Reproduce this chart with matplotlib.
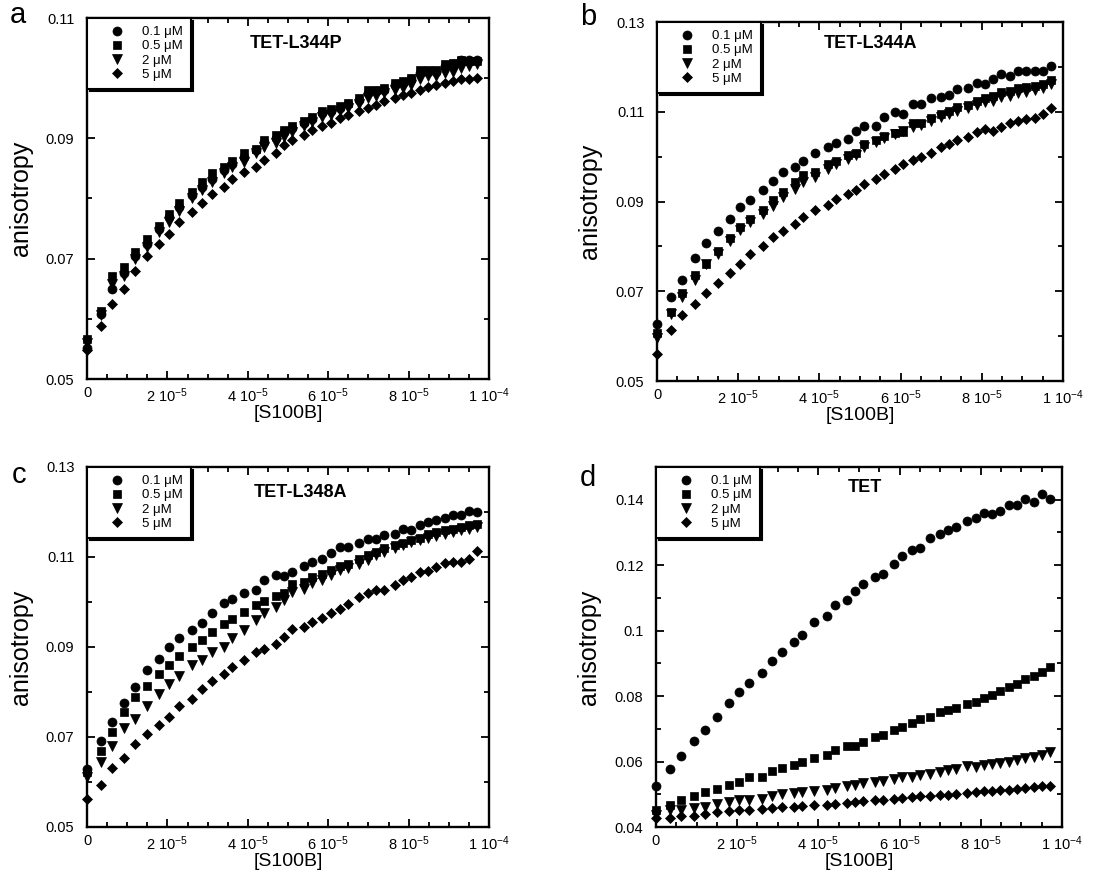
import matplotlib
matplotlib.use("Agg")
import matplotlib.pyplot as plt
from matplotlib.ticker import MultipleLocator

plt.rcParams['font.family'] = ['Liberation Sans', 'DejaVu Sans']
plt.rcParams['mathtext.fontset'] = 'custom'
plt.rcParams['mathtext.rm'] = 'Liberation Sans'
plt.rcParams['mathtext.default'] = 'regular'

# [S100B] in units of 1e-5 M
s100b_e5 = [0, 0.35, 0.62, 0.93, 1.2, 1.5, 1.8, 2.05, 2.3, 2.6, 2.86, 3.1, 3.4, 3.6, 3.9,
            4.2, 4.4, 4.7, 4.9, 5.1, 5.4, 5.6, 5.85, 6.06, 6.3, 6.5, 6.76, 7.0, 7.2, 7.4,
            7.66, 7.87, 8.07, 8.28, 8.48, 8.69, 8.9, 9.1, 9.3, 9.5, 9.7]

series_labels = ['0.1 \u03bcM', '0.5 \u03bcM', '2 \u03bcM', '5 \u03bcM']

# Panel a: TET-L344P
a_01 = [.0552, .0608, .0650, .0677, .0705, .0725, .0750, .0769, .0786, .0805, .0819, .0833, .0847, .0858,
        .0869, .0880, .0894, .0900, .0911, .0917, .0925, .0932, .0942, .0946, .0950, .0957, .0964, .0975,
        .0978, .0981, .0988, .0992, .0998, .1009, .1011, .1011, .1020, .1023, .1031, .1031, .1031]
a_05 = [.0566, .0613, .0672, .0686, .0711, .0733, .0755, .0775, .0793, .0811, .0828, .0842, .0853, .0862,
        .0875, .0883, .0897, .0906, .0914, .0920, .0929, .0936, .0945, .0948, .0953, .0958, .0967, .0981,
        .0981, .0984, .0992, .0995, .1000, .1013, .1014, .1014, .1023, .1025, .1031, .1029, .1028]
a_2 = [.0560, .0606, .0658, .0672, .0700, .0719, .0744, .0761, .0780, .0800, .0814, .0828, .0842, .0853,
       .0861, .0875, .0886, .0892, .0903, .0911, .0920, .0927, .0935, .0939, .0945, .0950, .0957, .0967,
       .0971, .0975, .0981, .0984, .0989, .0998, .1003, .1003, .1009, .1011, .1017, .1020, .1023]
a_5 = [.0549, .0588, .0624, .0650, .0680, .0705, .0725, .0741, .0761, .0777, .0793, .0808, .0819, .0833,
       .0844, .0853, .0864, .0875, .0889, .0897, .0906, .0914, .0920, .0925, .0933, .0939, .0945, .0950,
       .0956, .0962, .0967, .0972, .0975, .0981, .0986, .0989, .0992, .0995, .0998, .0999, .1000]

# Panel b: TET-L344A
b_01 = [.0628, .0687, .0726, .0773, .0807, .0834, .0861, .0887, .0904, .0926, .0945, .0965, .0976, .0991,
        .1007, .1021, .1030, .1039, .1056, .1069, .1069, .1089, .1099, .1096, .1117, .1117, .1130, .1132,
        .1138, .1150, .1153, .1163, .1161, .1173, .1184, .1180, .1190, .1191, .1190, .1190, .1202]
b_05 = [.0606, .0654, .0695, .0736, .0761, .0790, .0819, .0843, .0861, .0880, .0904, .0921, .0943, .0960,
        .0965, .0984, .0991, .1004, .1009, .1028, .1036, .1047, .1052, .1054, .1074, .1076, .1087, .1095,
        .1102, .1111, .1116, .1124, .1130, .1136, .1145, .1147, .1153, .1156, .1158, .1161, .1170]
b_2 = [.0595, .0650, .0687, .0724, .0761, .0784, .0813, .0836, .0854, .0873, .0891, .0910, .0928, .0943,
       .0954, .0973, .0984, .0995, .1004, .1021, .1032, .1041, .1050, .1056, .1067, .1071, .1080, .1089,
       .1095, .1102, .1108, .1116, .1121, .1124, .1132, .1136, .1141, .1145, .1148, .1154, .1161]
b_5 = [.0561, .0613, .0647, .0671, .0696, .0719, .0741, .0760, .0782, .0800, .0821, .0834, .0849, .0865,
       .0880, .0893, .0906, .0917, .0926, .0939, .0950, .0961, .0973, .0984, .0993, .1000, .1009, .1021,
       .1028, .1036, .1043, .1054, .1061, .1056, .1067, .1074, .1080, .1084, .1086, .1095, .1108]

# Panel c: TET-L348A
c_01 = [.0630, .0691, .0733, .0776, .0811, .0848, .0874, .0899, .0919, .0937, .0953, .0976, .0998, .1007,
        .1019, .1027, .1048, .1059, .1057, .1067, .1079, .1089, .1096, .1109, .1122, .1122, .1130, .1141,
        .1141, .1148, .1152, .1163, .1161, .1170, .1178, .1183, .1187, .1193, .1193, .1202, .1200]
c_05 = [.0622, .0669, .0711, .0756, .0789, .0813, .0839, .0859, .0879, .0899, .0916, .0933, .0950, .0963,
        .0978, .0993, .1002, .1013, .1019, .1041, .1044, .1056, .1063, .1072, .1081, .1085, .1096, .1104,
        .1111, .1119, .1126, .1131, .1137, .1143, .1150, .1156, .1161, .1163, .1167, .1170, .1174]
c_2 = [.0611, .0644, .0679, .0719, .0739, .0770, .0795, .0817, .0835, .0859, .0872, .0889, .0901, .0919,
       .0937, .0959, .0976, .0989, .1005, .1022, .1030, .1042, .1050, .1061, .1070, .1076, .1085, .1094,
       .1104, .1111, .1119, .1126, .1133, .1137, .1143, .1146, .1152, .1156, .1161, .1163, .1167]
c_5 = [.0563, .0593, .0632, .0654, .0684, .0707, .0726, .0744, .0770, .0785, .0807, .0824, .0841, .0856,
       .0872, .0889, .0896, .0907, .0922, .0939, .0944, .0956, .0965, .0976, .0985, .0996, .1010, .1019,
       .1026, .1027, .1037, .1048, .1056, .1067, .1069, .1078, .1087, .1089, .1089, .1096, .1113]

# Panel d: TET
d_01 = [.0526, .0577, .0617, .0664, .0697, .0737, .0778, .0811, .0839, .0872, .0908, .0936, .0966, .0986,
        .1027, .1044, .1078, .1093, .1122, .1144, .1164, .1174, .1205, .1227, .1246, .1254, .1284, .1294,
        .1307, .1317, .1335, .1345, .1359, .1357, .1365, .1383, .1383, .1403, .1393, .1416, .1403]
d_05 = [.0453, .0468, .0483, .0494, .0506, .0516, .0529, .0539, .0552, .0554, .0570, .0580, .0590, .0600,
        .0610, .0621, .0634, .0646, .0648, .0661, .0674, .0682, .0695, .0707, .0719, .0729, .0735, .0750,
        .0758, .0763, .0776, .0783, .0793, .0803, .0817, .0827, .0837, .0851, .0861, .0875, .0888]
d_2 = [.0438, .0453, .0453, .0458, .0461, .0471, .0475, .0481, .0483, .0485, .0494, .0502, .0504, .0506,
       .0509, .0514, .0519, .0524, .0529, .0534, .0536, .0542, .0546, .0554, .0554, .0560, .0563, .0567,
       .0573, .0577, .0585, .0583, .0590, .0593, .0597, .0600, .0605, .0610, .0615, .0621, .0628]
d_5 = [.0427, .0427, .0433, .0435, .0441, .0445, .0448, .0453, .0453, .0455, .0458, .0461, .0461, .0465,
       .0468, .0468, .0471, .0473, .0475, .0478, .0481, .0483, .0485, .0488, .0491, .0494, .0496, .0499,
       .0499, .0502, .0504, .0506, .0509, .0509, .0512, .0514, .0516, .0519, .0522, .0524, .0526]

panel_letters = ['a', 'b', 'c', 'd']
panel_titles = ['TET-L344P', 'TET-L344A', 'TET-L348A', 'TET']
x_tick_vals = [0, 2e-5, 4e-5, 6e-5, 8e-5, 1e-4]
x_tick_labels = ['0', '2 10$^{-5}$', '4 10$^{-5}$', '6 10$^{-5}$', '8 10$^{-5}$', '1 10$^{-4}$']
yticks_ab = [0.05, 0.07, 0.09, 0.11]
ylabels_ab = ['0.05', '0.07', '0.09', '0.11']
yticks_bc = [0.05, 0.07, 0.09, 0.11, 0.13]
ylabels_bc = ['0.05', '0.07', '0.09', '0.11', '0.13']
yticks_d = [0.04, 0.06, 0.08, 0.10, 0.12, 0.14]
ylabels_d = ['0.04', '0.06', '0.08', '0.1', '0.12', '0.14']

panels = [
    dict(series=[a_01, a_05, a_2, a_5], ylim=(0.05, 0.11), yt=yticks_ab, yl=ylabels_ab,
         rect=(87, 18, 489, 379), letter_xy=(10, 15), title_xy=(0.52, 0.93)),
    dict(series=[b_01, b_05, b_2, b_5], ylim=(0.05, 0.13), yt=yticks_bc, yl=ylabels_bc,
         rect=(657, 22, 1063, 381), letter_xy=(580, 17), title_xy=(0.525, 0.94)),
    dict(series=[c_01, c_05, c_2, c_5], ylim=(0.05, 0.13), yt=yticks_bc, yl=ylabels_bc,
         rect=(87, 467, 489, 827), letter_xy=(12, 475), title_xy=(0.53, 0.93)),
    dict(series=[d_01, d_05, d_2, d_5], ylim=(0.04, 0.15), yt=yticks_d, yl=ylabels_d,
         rect=(656, 467, 1062, 827), letter_xy=(580, 478), title_xy=(0.515, 0.944)),
]

markers = ['o', 's', 'v', 'D']
msizes = [6.5, 6.0, 6.5, 4.8]

W, H = 1113, 871
fig = plt.figure(figsize=(W / 100, H / 100), dpi=100)
x_vals = [v * 1e-5 for v in s100b_e5]

for i, p in enumerate(panels):
    l, t, r, b = p['rect']
    ax = fig.add_axes([l / W, 1 - b / H, (r - l) / W, (b - t) / H])
    for ys, m, ms, lab in zip(p['series'], markers, msizes, series_labels):
        ax.plot(x_vals, ys, linestyle='none', marker=m, markersize=ms, color='black',
                markeredgewidth=0.5, label=lab, clip_on=False)
    ax.set_xlim(0, 1e-4)
    ax.set_ylim(*p['ylim'])
    ax.set_xticks(x_tick_vals)
    ax.set_xticklabels(x_tick_labels, fontsize=10.5)
    ax.xaxis.set_minor_locator(MultipleLocator(5e-6))
    ax.set_yticks(p['yt'])
    ax.set_yticklabels(p['yl'], fontsize=10.5)
    ax.yaxis.set_minor_locator(MultipleLocator(0.01))
    ax.tick_params(which='both', direction='in', top=True, right=True, width=1.3)
    ax.tick_params(which='major', length=6, pad=5)
    ax.tick_params(axis='y', which='major', pad=9)
    ax.tick_params(which='minor', length=3.5)
    for s in ax.spines.values():
        s.set_linewidth(1.7)
    ax.set_xlabel('[S100B]', fontsize=14, labelpad=0)
    ax.set_ylabel('anisotropy', fontsize=18)
    ax.yaxis.set_label_coords(-0.135, 0.5)
    ax.text(p['title_xy'][0], p['title_xy'][1], panel_titles[i], transform=ax.transAxes,
            ha='center', va='center', fontsize=13, fontweight='bold')
    leg = ax.legend(loc='upper left', borderaxespad=0, frameon=True, fancybox=False,
                    fontsize=9.5, labelspacing=0.15, handlelength=3.4, handletextpad=0.15,
                    borderpad=0.6, shadow={'color': 'black', 'alpha': 1})
    leg.get_frame().set_edgecolor('black')
    leg.get_frame().set_linewidth(1.5)
    fig.text(p['letter_xy'][0] / W, 1 - p['letter_xy'][1] / H, panel_letters[i],
             fontsize=21, ha='left', va='center')

fig.savefig('out.png', dpi=100)
